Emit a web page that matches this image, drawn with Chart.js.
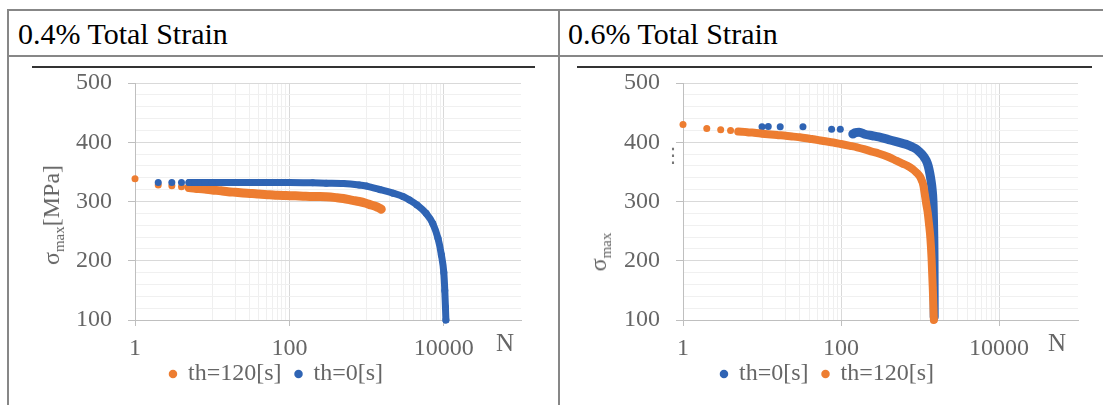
<!DOCTYPE html>
<html>
<head>
<meta charset="utf-8">
<script src="https://cdn.jsdelivr.net/npm/chart.js@4.4.1/dist/chart.umd.min.js"></script>
<style>
  body { margin: 0; width: 1103px; height: 405px; background: #fff; position: relative; overflow: hidden;
         font-family: "Liberation Serif", "Times New Roman", serif; }
  .rule { position: absolute; background: #878787; }
  .head { position: absolute; top: 19px; font-size: 30px; line-height: 30px; color: #000; white-space: nowrap; }
  .topline { position: absolute; top: 66px; height: 2px; background: #333; }
  .box { position: absolute; top: 68px; height: 328px; }
  .ytitle { position: absolute; transform: translate(-50%, -50%) rotate(-90deg); white-space: nowrap;
            font-size: 24px; line-height: 24px; color: #666; }
  .ytitle sub { font-size: 15px; vertical-align: -5px; }
  .nlabel { position: absolute; transform: translate(-50%, -50%); font-size: 25px; color: #666; }
  .dots { position: absolute; font-family: "DejaVu Sans", sans-serif; font-size: 20px; color: #777;
          transform: translate(-50%, -50%); }
</style>
</head>
<body>
<!-- table frame -->
<div class="rule" style="left:7px;top:9px;width:1100px;height:2px"></div>
<div class="rule" style="left:7px;top:55px;width:1100px;height:2px"></div>
<div class="rule" style="left:7px;top:9px;width:2px;height:400px"></div>
<div class="rule" style="left:558px;top:9px;width:2px;height:400px"></div>
<div class="head" style="left:18px">0.4% Total Strain</div>
<div class="head" style="left:568px">0.6% Total Strain</div>

<!-- left chart -->
<div class="topline" style="left:32px;width:503px"></div>
<div class="box" style="left:32px;width:503px"><canvas id="c1"></canvas></div>
<div class="ytitle" style="left:55px;top:215px">σ<sub>max</sub>[MPa]</div>
<div class="nlabel" style="left:505px;top:343px">N</div>

<!-- right chart -->
<div class="topline" style="left:577px;width:515px"></div>
<div class="box" style="left:577px;width:515px"><canvas id="c2"></canvas></div>
<div class="ytitle" style="left:602px;top:252px">σ<sub>max</sub></div>
<div class="dots" style="left:673px;top:155px">⋮</div>
<div class="nlabel" style="left:1057px;top:343px">N</div>

<script>
// 0.4% total strain
const s04_th0_N = [2, 3, 4, 5, 6, 7, 8, 10, 15, 20, 30, 50, 100, 200, 300, 500, 800, 1000, 1500, 2200, 3000, 3600, 4500, 5900, 7200, 8400, 9300, 10000, 10300, 10500, 10650];
const s04_th0_S = [332, 332, 332, 332, 332, 332, 332, 332, 332, 332, 332, 332, 332, 331.5, 331, 330.5, 328, 326, 320, 314, 308, 302.5, 294, 280, 263, 238, 210, 180, 150, 122, 100];
const s04_th120_N = [1, 2, 3, 4, 5, 6, 8, 10, 13, 16, 20, 25, 33, 40, 55, 70, 90, 120, 150, 200, 250, 300, 400, 500, 660, 800, 980, 1150, 1320, 1450, 1550];
const s04_th120_S = [338.5, 328, 326.5, 325, 323.5, 322.5, 321, 319.5, 318, 316.5, 315.5, 314.5, 313.5, 312.5, 311.5, 310.5, 310, 309.5, 309, 308.5, 308.5, 308, 306.5, 305, 302, 300, 297, 294, 291.5, 289, 287];

// 0.6% total strain
const s06_th0_N = [10, 12, 17, 33, 76, 98, 141, 150, 170, 200, 250, 300, 400, 500, 600, 700, 800, 900, 1000, 1100, 1200, 1270, 1330, 1380, 1420, 1460, 1490, 1505, 1510, 1513];
const s06_th0_S = [426, 426.5, 426, 426, 422, 422, 414, 416, 417, 413.5, 411, 409, 404.5, 401, 398, 395.5, 392, 388.5, 383, 377, 369, 360, 348, 335, 322, 300, 250, 200, 150, 105];
const s06_th120_N = [1, 2, 3, 4, 5, 6, 7, 8, 10, 13, 16, 20, 25, 30, 40, 50, 60, 80, 100, 130, 160, 200, 250, 300, 400, 500, 600, 700, 800, 900, 1000, 1050, 1100, 1150, 1200, 1250, 1300, 1350, 1400, 1450, 1500];
const s06_th120_S = [430, 423, 421, 420, 418, 417.5, 416.5, 416, 414.5, 413, 412, 411, 409.5, 408.5, 406, 404, 402, 399.5, 397, 394, 391.5, 388, 384, 381, 375, 369, 364, 360, 355, 349, 342, 336, 328, 312, 296, 282, 262, 240, 205, 155, 100];

const xTickLabels = [1, 100, 10000];
const yTickLabels = [100, 200, 300, 400, 500];

const BLUE = '#2F64B4';
const ORANGE = '#ED7D31';

// excel-style minor grid: 10..90 and 1000..9000
const xGridValues = xTickLabels.slice();
[10, 1000].forEach(base => { for (let k = 1; k <= 9; k++) xGridValues.push(base * k); });
xGridValues.sort((a, b) => a - b);

Chart.defaults.font.family = '"Liberation Serif", "Times New Roman", serif';
Chart.defaults.font.size = 24;
Chart.defaults.color = '#666';

// x labels sit a bit lower than the thin axis box, don't clip them
const noLabelClip = {
  id: 'noLabelClip',
  beforeDraw: chart => { chart.scales.x._computeLabelArea = () => undefined; }
};

function series(label, xs, ys, color, width, joinFrom) {
  return {
    label: label,
    data: xs.map((x, i) => ({ x: x, y: ys[i] })),
    showLine: true,
    borderColor: color,
    backgroundColor: color,
    borderWidth: width,
    borderCapStyle: 'round',
    borderJoinStyle: 'round',
    cubicInterpolationMode: 'monotone',
    pointRadius: 3.5,
    pointHoverRadius: 3.5,
    pointBorderWidth: 0,
    pointBackgroundColor: color,
    clip: false,
    // early cycles are separate markers, later ones merge into a band
    segment: { borderColor: ctx => ctx.p0.parsed.x >= joinFrom ? color : 'rgba(0,0,0,0)' }
  };
}

function makeChart(id, datasets, yWidth) {
  return new Chart(document.getElementById(id), {
    type: 'scatter',
    data: { datasets: datasets },
    plugins: [noLabelClip],
    options: {
      animation: false,
      responsive: true,
      maintainAspectRatio: false,
      layout: { padding: { top: 0, right: 14, left: 0, bottom: 0 } },
      scales: {
        x: {
          type: 'logarithmic',
          min: 1,
          max: 100000,
          afterBuildTicks: s => { s.ticks = xGridValues.map(v => ({ value: v })); },
          afterFit: s => { s.height = 28; },
          border: { color: '#bfbfbf' },
          grid: {
            color: c => (c.tick && xTickLabels.includes(c.tick.value)) ? '#d9d9d9' : '#efefef',
            tickColor: c => (c.tick && xTickLabels.includes(c.tick.value)) ? '#bfbfbf' : 'rgba(0,0,0,0)',
            tickLength: 6
          },
          ticks: {
            autoSkip: false,
            maxRotation: 0,
            padding: 8,
            color: '#666',
            callback: v => xTickLabels.includes(v) ? String(v) : ''
          }
        },
        y: {
          min: 100,
          max: 500,
          afterFit: s => { s.width = yWidth; s.paddingTop = 15; s.paddingBottom = 14; },
          border: { color: '#bfbfbf' },
          grid: {
            color: c => (c.tick && yTickLabels.includes(c.tick.value)) ? '#d9d9d9' : '#f0f0f0',
            tickColor: c => (c.tick && yTickLabels.includes(c.tick.value)) ? '#bfbfbf' : 'rgba(0,0,0,0)',
            tickLength: 7
          },
          ticks: {
            stepSize: 20,
            autoSkip: false,
            padding: 16,
            color: '#666',
            callback: v => yTickLabels.includes(v) ? String(v) : ''
          }
        }
      },
      plugins: {
        tooltip: { enabled: false },
        legend: {
          position: 'bottom',
          reverse: true,
          labels: {
            usePointStyle: true,
            pointStyle: 'circle',
            boxWidth: 6,
            boxHeight: 6,
            padding: 14,
            color: '#666',
            font: { size: 24 },
            generateLabels: chart => Chart.defaults.plugins.legend.labels.generateLabels(chart)
              .map(item => Object.assign(item, { lineWidth: 0 }))
          }
        }
      }
    }
  });
}

// dataset 0 is painted on top; legend is reversed to keep the original order
makeChart('c1', [
  series('th=0[s]', s04_th0_N, s04_th0_S, BLUE, 7, 5),
  series('th=120[s]', s04_th120_N, s04_th120_S, ORANGE, 9, 5)
], 103);

makeChart('c2', [
  series('th=120[s]', s06_th120_N, s06_th120_S, ORANGE, 8, 5),
  series('th=0[s]', s06_th0_N, s06_th0_S, BLUE, 9, 140)
], 106);
</script>
</body>
</html>
